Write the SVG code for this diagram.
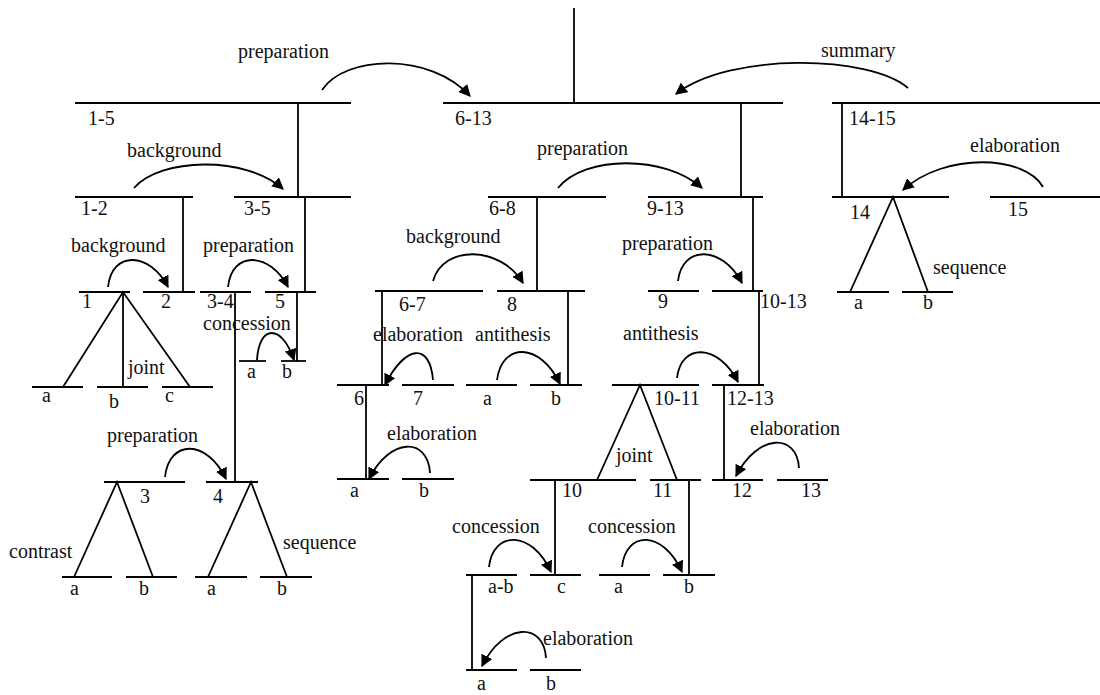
<svg xmlns="http://www.w3.org/2000/svg" width="1100" height="695" viewBox="0 0 1100 695">
<style>
  .s{stroke:#000;stroke-width:1.8;fill:none}
  .a{stroke:#000;stroke-width:1.8;fill:none;marker-end:url(#ah)}
  text{font-family:'Liberation Serif','DejaVu Serif',serif;font-size:20px;fill:#111}
</style>
<defs>
  <marker id="ah" viewBox="0 0 10 10" refX="9" refY="5" markerWidth="12" markerHeight="12" markerUnits="userSpaceOnUse" orient="auto">
    <path d="M0,0 L10,5 L0,10 z" fill="#000"/>
  </marker>
</defs>
<rect width="1100" height="695" fill="#fff"/>
<g font-family="Liberation Serif, DejaVu Serif, serif">
<!-- nodes -->
<g id="n1-5"><line class="s" x1="75" y1="103" x2="351" y2="103"/><text x="88" y="125">1-5</text></g>
<g id="n6-13"><line class="s" x1="443" y1="103" x2="783" y2="103"/><text x="455" y="125">6-13</text></g>
<g id="n14-15"><line class="s" x1="832" y1="103" x2="1100" y2="103"/><text x="849" y="125">14-15</text></g>
<g id="n1-2"><line class="s" x1="75" y1="197" x2="193" y2="197"/><text x="81" y="215">1-2</text></g>
<g id="n3-5"><line class="s" x1="234" y1="197" x2="351" y2="197"/><text x="244" y="215">3-5</text></g>
<g id="n6-8"><line class="s" x1="488" y1="197" x2="606" y2="197"/><text x="489" y="215">6-8</text></g>
<g id="n9-13"><line class="s" x1="648" y1="197" x2="763" y2="197"/><text x="647" y="215">9-13</text></g>
<g id="n14"><line class="s" x1="832" y1="197" x2="949" y2="197"/><text x="850" y="219">14</text></g>
<g id="n15"><line class="s" x1="990" y1="197" x2="1100" y2="197"/><text x="1008" y="216">15</text></g>
<g id="n1"><line class="s" x1="79" y1="292" x2="130" y2="292"/><text x="82" y="308">1</text></g>
<g id="n2"><line class="s" x1="143" y1="292" x2="195" y2="292"/><text x="161" y="308">2</text></g>
<g id="n3-4"><line class="s" x1="200" y1="292" x2="251" y2="292"/><text x="207" y="308">3-4</text></g>
<g id="n5"><line class="s" x1="265" y1="292" x2="316" y2="292"/><text x="275" y="308">5</text></g>
<g id="n6-7"><line class="s" x1="375" y1="291" x2="483" y2="291"/><text x="399" y="311">6-7</text></g>
<g id="n8"><line class="s" x1="497" y1="291" x2="585" y2="291"/><text x="507" y="311">8</text></g>
<g id="n9"><line class="s" x1="648" y1="291" x2="699" y2="291"/><text x="658" y="308">9</text></g>
<g id="n10-13"><line class="s" x1="712" y1="291" x2="763" y2="291"/><text x="760" y="308">10-13</text></g>
<g id="n14a"><line class="s" x1="837" y1="292" x2="889" y2="292"/><text x="854" y="309">a</text></g>
<g id="n14b"><line class="s" x1="902" y1="292" x2="953" y2="292"/><text x="923" y="309">b</text></g>
<g id="n1a"><line class="s" x1="32" y1="387" x2="83" y2="387"/><text x="42" y="402">a</text></g>
<g id="n1b"><line class="s" x1="97" y1="387" x2="148" y2="387"/><text x="109" y="408">b</text></g>
<g id="n1c"><line class="s" x1="162" y1="387" x2="213" y2="387"/><text x="165" y="402">c</text></g>
<g id="n5a"><line class="s" x1="239" y1="361" x2="266" y2="361"/><text x="247" y="378">a</text></g>
<g id="n5b"><line class="s" x1="281" y1="361" x2="306" y2="361"/><text x="282" y="378">b</text></g>
<g id="n6"><line class="s" x1="337" y1="385" x2="389" y2="385"/><text x="354" y="405">6</text></g>
<g id="n7"><line class="s" x1="402" y1="385" x2="454" y2="385"/><text x="413" y="405">7</text></g>
<g id="n8a"><line class="s" x1="466" y1="385" x2="517" y2="385"/><text x="483" y="405">a</text></g>
<g id="n8b"><line class="s" x1="530" y1="385" x2="582" y2="385"/><text x="551" y="405">b</text></g>
<g id="n10-11"><line class="s" x1="612" y1="385" x2="699" y2="385"/><text x="654" y="405">10-11</text></g>
<g id="n12-13"><line class="s" x1="712" y1="385" x2="764" y2="385"/><text x="727" y="405">12-13</text></g>
<g id="n3"><line class="s" x1="104" y1="482" x2="185" y2="482"/><text x="140" y="503">3</text></g>
<g id="n4"><line class="s" x1="206" y1="482" x2="258" y2="482"/><text x="213" y="503">4</text></g>
<g id="n6a"><line class="s" x1="337" y1="479" x2="389" y2="479"/><text x="350" y="497">a</text></g>
<g id="n6b"><line class="s" x1="402" y1="479" x2="454" y2="479"/><text x="419" y="497">b</text></g>
<g id="n10"><line class="s" x1="530" y1="480" x2="636" y2="480"/><text x="562" y="497">10</text></g>
<g id="n11"><line class="s" x1="650" y1="480" x2="701" y2="480"/><text x="653" y="497">11</text></g>
<g id="n12"><line class="s" x1="712" y1="480" x2="763" y2="480"/><text x="732" y="497">12</text></g>
<g id="n13"><line class="s" x1="777" y1="480" x2="828" y2="480"/><text x="801" y="497">13</text></g>
<g id="n3a"><line class="s" x1="62" y1="577" x2="112" y2="577"/><text x="70" y="595">a</text></g>
<g id="n3b"><line class="s" x1="126" y1="577" x2="177" y2="577"/><text x="139" y="595">b</text></g>
<g id="n4a"><line class="s" x1="195" y1="577" x2="247" y2="577"/><text x="207" y="595">a</text></g>
<g id="n4b"><line class="s" x1="260" y1="577" x2="312" y2="577"/><text x="277" y="595">b</text></g>
<g id="n10ab"><line class="s" x1="466" y1="575" x2="517" y2="575"/><text x="488" y="593">a-b</text></g>
<g id="n10c"><line class="s" x1="530" y1="575" x2="581" y2="575"/><text x="557" y="593">c</text></g>
<g id="n11a"><line class="s" x1="599" y1="575" x2="650" y2="575"/><text x="614" y="593">a</text></g>
<g id="n11b"><line class="s" x1="663" y1="575" x2="715" y2="575"/><text x="684" y="593">b</text></g>
<g id="nab-a"><line class="s" x1="466" y1="670" x2="517" y2="670"/><text x="477" y="690">a</text></g>
<g id="nab-b"><line class="s" x1="530" y1="670" x2="581" y2="670"/><text x="546" y="690">b</text></g>

<!-- connectors -->
<g id="connectors">
  <line class="s" x1="574" y1="8" x2="574" y2="103"/>
  <line class="s" x1="298" y1="103" x2="298" y2="197"/>
  <line class="s" x1="741" y1="103" x2="741" y2="197"/>
  <line class="s" x1="842" y1="103" x2="842" y2="197"/>
  <line class="s" x1="183" y1="197" x2="183" y2="292"/>
  <line class="s" x1="305" y1="197" x2="305" y2="292"/>
  <line class="s" x1="537" y1="197" x2="537" y2="291"/>
  <line class="s" x1="753" y1="197" x2="753" y2="291"/>
  <line class="s" x1="297" y1="292" x2="297" y2="361"/>
  <line class="s" x1="235" y1="292" x2="235" y2="482"/>
  <line class="s" x1="382" y1="291" x2="382" y2="385"/>
  <line class="s" x1="568" y1="291" x2="568" y2="385"/>
  <line class="s" x1="759" y1="291" x2="759" y2="385"/>
  <line class="s" x1="366" y1="385" x2="366" y2="479"/>
  <line class="s" x1="724" y1="385" x2="724" y2="480"/>
  <line class="s" x1="555" y1="480" x2="555" y2="575"/>
  <line class="s" x1="689" y1="480" x2="689" y2="575"/>
  <line class="s" x1="472" y1="575" x2="472" y2="670"/>
  <polyline class="s" points="63,387 123,292 190,387"/>
  <line class="s" x1="123" y1="292" x2="123" y2="387"/>
  <polyline class="s" points="850,292 893,197 928,292"/>
  <polyline class="s" points="74,577 117,482 153,577"/>
  <polyline class="s" points="208,577 251,482 287,577"/>
  <polyline class="s" points="597,480 640,385 677,480"/>
  <path class="a" d="M322,90 C345,55 430,52 470,96"/>
  <path class="a" d="M908,88 C870,55 730,52 676,94"/>
  <path class="a" d="M134,188 C160,158 245,155 283,189"/>
  <path class="a" d="M108,287 C112,250 150,252 168,287"/>
  <path class="a" d="M228,287 C232,250 270,252 288,287"/>
  <path class="a" d="M257,360 C259,324 282,324 294,360"/>
  <path class="a" d="M1043,187 C1025,155 945,152 903,190"/>
  <path class="a" d="M558,188 C585,155 665,155 702,188"/>
  <path class="a" d="M433,281 C443,245 500,245 523,283"/>
  <path class="a" d="M433,380 C430,342 405,345 385,385"/>
  <path class="a" d="M497,380 C502,342 540,342 560,384"/>
  <path class="a" d="M430,473 C428,437 390,437 369,479"/>
  <path class="a" d="M678,281 C682,245 722,245 742,283"/>
  <path class="a" d="M677,378 C681,343 718,343 738,382"/>
  <path class="a" d="M799,468 C797,433 758,433 736,476"/>
  <path class="a" d="M489,567 C493,530 532,530 551,572"/>
  <path class="a" d="M622,567 C626,530 663,530 682,572"/>
  <path class="a" d="M546,658 C544,622 504,622 482,666"/>
  <path class="a" d="M165,477 C169,439 207,439 226,479"/>
</g>

<!-- relation labels -->
<g id="relations">
  <text x="238" y="58">preparation</text>
  <text x="821" y="57">summary</text>
  <text x="127" y="157">background</text>
  <text x="970" y="152">elaboration</text>
  <text x="537" y="155">preparation</text>
  <text x="71" y="252">background</text>
  <text x="203" y="252">preparation</text>
  <text x="406" y="243">background</text>
  <text x="622" y="250">preparation</text>
  <text x="933" y="274">sequence</text>
  <text x="203" y="330">concession</text>
  <text x="373" y="341">elaboration</text>
  <text x="475" y="341">antithesis</text>
  <text x="623" y="340">antithesis</text>
  <text x="128" y="374">joint</text>
  <text x="387" y="440">elaboration</text>
  <text x="750" y="435">elaboration</text>
  <text x="107" y="442">preparation</text>
  <text x="616" y="462">joint</text>
  <text x="452" y="533">concession</text>
  <text x="588" y="533">concession</text>
  <text x="283" y="549">sequence</text>
  <text x="9" y="558">contrast</text>
  <text x="543" y="645">elaboration</text>
</g>
</g>
</svg>
